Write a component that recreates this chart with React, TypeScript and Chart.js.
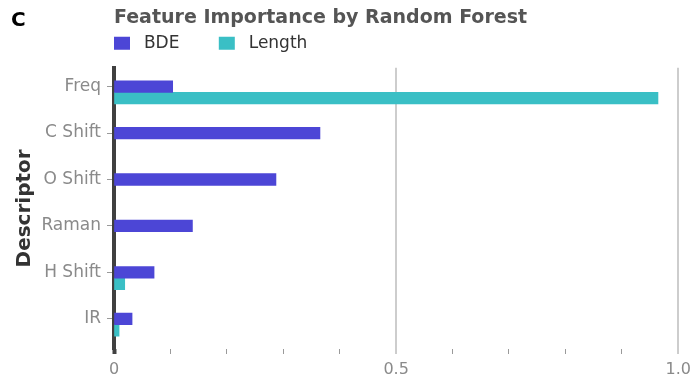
import React, { useEffect, useRef } from 'react';
import { Chart, registerables } from 'chart.js';

Chart.register(...registerables);

// ---- data ----
const categories = ['Freq', 'C Shift', 'O Shift', 'Raman', 'H Shift', 'IR'];
const bdeValues = [0.104, 0.365, 0.287, 0.139, 0.071, 0.032];
const lengthValues = [0.964, null, null, null, 0.019, 0.009];
const seriesNames = ['BDE', 'Length'];
const xTickValues = [0, 0.5, 1.0];
const xTickLabels = ['0', '0.5', '1.0'];

// ---- styling / layout ----
const FONT = "'DejaVu Sans', sans-serif";
const BDE_COLOR = '#4c46d6';
const LENGTH_COLOR = '#3abfc5';
const LENGTH_OFFSET = 0.25; // Length bar sits just below the BDE bar
const Y_MIN = -0.405;
const Y_MAX = 5.65;

const majorIndex = (v: number) => xTickValues.findIndex((t) => Math.abs(t - v) < 1e-6);

export default function App() {
  const ref = useRef<HTMLCanvasElement>(null);

  useEffect(() => {
    if (!ref.current) return;
    const chart = new Chart(ref.current, {
      type: 'bar',
      data: {
        datasets: [
          {
            label: seriesNames[0],
            data: categories.map((_, i) => ({ x: bdeValues[i], y: i })),
            backgroundColor: BDE_COLOR,
            borderWidth: 0,
            grouped: false,
            barPercentage: 1,
            categoryPercentage: 1,
          } as any,
          {
            label: seriesNames[1],
            data: categories.map((_, i) => ({ x: lengthValues[i], y: i + LENGTH_OFFSET })),
            backgroundColor: LENGTH_COLOR,
            borderWidth: 0,
            grouped: false,
            barPercentage: 1,
            categoryPercentage: 1,
          } as any,
        ],
      },
      options: {
        indexAxis: 'y',
        animation: false,
        responsive: false,
        layout: { padding: 0 },
        scales: {
          x: {
            type: 'linear',
            position: 'bottom',
            min: 0,
            max: 1,
            offset: false,
            border: { display: false },
            grid: {
              offset: false,
              drawTicks: true,
              tickLength: 5,
              color: (c: any) => {
                const v = c.tick ? c.tick.value : -1;
                return majorIndex(v) > 0 ? '#cdcdcd' : 'rgba(0,0,0,0)';
              },
              lineWidth: (c: any) => {
                const v = c.tick ? c.tick.value : -1;
                return majorIndex(v) > 0 ? 2 : 1;
              },
              tickColor: (c: any) => {
                const v = c.tick ? c.tick.value : -1;
                return majorIndex(v) === 0 ? '#404040' : '#9a9a9a';
              },
              tickWidth: (c: any) => {
                const v = c.tick ? c.tick.value : -1;
                return majorIndex(v) === 0 ? 4 : 1;
              },
            } as any,
            ticks: {
              stepSize: 0.1,
              autoSkip: false,
              maxRotation: 0,
              padding: 6,
              color: '#8a8a8a',
              font: { family: FONT, size: 16 },
              callback: (v: any) => {
                const k = majorIndex(Number(v));
                return k >= 0 ? xTickLabels[k] : '';
              },
            },
            afterFit: (s: any) => {
              s.height = 27;
            },
          },
          xTop: {
            type: 'linear',
            position: 'top',
            display: true,
            grid: { display: false, drawTicks: false },
            border: { display: false },
            ticks: { display: false },
            afterFit: (s: any) => {
              s.height = 6;
            },
          },
          y: {
            type: 'linear',
            reverse: true,
            min: Y_MIN,
            max: Y_MAX,
            bounds: 'data',
            offset: false,
            z: 1,
            afterBuildTicks: (s: any) => {
              s.ticks = categories.map((_, i) => ({ value: i }));
            },
            ticks: {
              autoSkip: false,
              padding: 6,
              color: '#8a8a8a',
              font: { family: FONT, size: 17 },
              callback: (v: any) => categories[Number(v)] ?? '',
            },
            grid: {
              offset: false,
              drawOnChartArea: false,
              drawTicks: true,
              tickLength: 7,
              tickColor: '#9a9a9a',
              tickWidth: 1,
            } as any,
            border: { display: true, color: '#404040', width: 4 },
            title: {
              display: true,
              text: 'Descriptor',
              color: '#333333',
              font: { family: FONT, size: 20, weight: 'bold' },
              padding: { top: 13, bottom: 0 },
            },
            afterFit: (s: any) => {
              s.width = 114;
            },
          },
        },
        plugins: {
          tooltip: { enabled: false },
          title: {
            display: true,
            text: 'Feature Importance by Random Forest',
            align: 'start',
            fullSize: false,
            color: '#555555',
            font: { family: FONT, size: 19, weight: 'bold' },
            padding: { top: 7, bottom: 5 },
          },
          legend: {
            display: true,
            position: 'top',
            align: 'start',
            fullSize: false,
            labels: {
              boxWidth: 16,
              boxHeight: 13,
              padding: 0,
              color: '#333333',
              font: { family: FONT, size: 17 },
              generateLabels: (ch: any) => {
                const items = (Chart.defaults.plugins.legend.labels as any).generateLabels(ch);
                return items.map((it: any, i: number) => ({
                  ...it,
                  lineWidth: 0,
                  text: ' ' + it.text + (i < items.length - 1 ? '\u2003\u2003 ' : ''),
                }));
              },
            },
          },
        },
      },
    });
    return () => chart.destroy();
  }, []);

  return (
    <div style={{ position: 'fixed', left: 0, top: 0, width: 697, height: 376, background: '#fff' }}>
      <canvas ref={ref} width={697} height={376} style={{ display: 'block' }} />
      <div
        style={{
          position: 'absolute',
          left: 11,
          top: 9,
          fontFamily: FONT,
          fontWeight: 'bold',
          fontSize: 20,
          lineHeight: 1,
          color: '#000',
        }}
      >
        C
      </div>
    </div>
  );
}
